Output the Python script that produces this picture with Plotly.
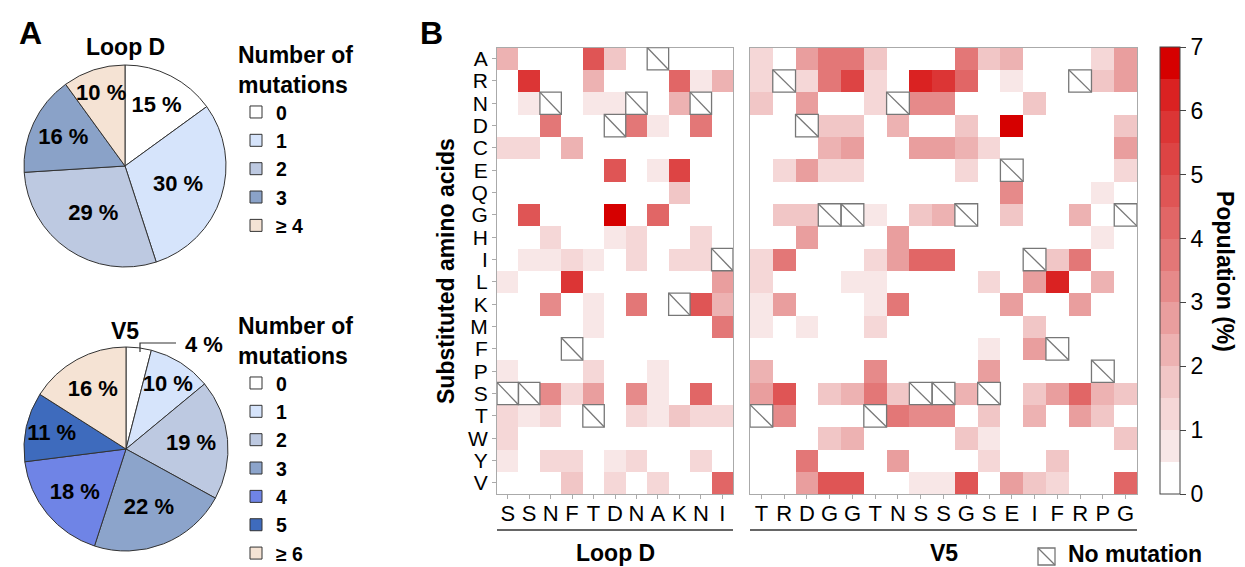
import plotly.graph_objects as go

# ---------------- data ----------------
AMINO = list("ARNDCEQGHILKMFPSTWYV")
LOOPD_RES = list("SSNFTDNAKNI")
V5_RES = list("TRDGGTNSSGSEIFRPG")
X = None  # no mutation (native residue)

# rows follow AMINO order, columns follow LOOPD_RES
LOOPD_Z = [
    [2.2, 0, 0, 0, 4.7, 1.7, 0, X, 0, 0, 0],
    [0, 5.7, 0, 0, 2.2, 0, 0, 0, 4.2, 0.7, 2.2],
    [0, 0.7, X, 0, 0.7, 0.7, X, 0, 2.2, X, 0],
    [0, 0, 3.7, 0, 0, X, 3.7, 0.7, 0, 3.7, 0],
    [1.2, 1.2, 0, 2.2, 0, 0, 0, 0, 0, 0, 0],
    [0, 0, 0, 0, 0, 4.7, 0, 0.7, 5.2, 0, 0],
    [0, 0, 0, 0, 0, 0, 0, 0, 1.7, 0, 0],
    [0, 4.7, 0, 0, 0, 6.7, 0, 4.2, 0, 0, 0],
    [0, 0, 1.2, 0, 0, 0.7, 1.2, 0, 0, 1.2, 0],
    [0, 0.7, 0.7, 1.2, 0.7, 0, 1.2, 0, 1.2, 1.2, X],
    [0.7, 0, 0, 5.7, 0, 0, 0, 0, 0, 0, 2.7],
    [0, 0, 3.2, 0, 0.7, 0, 3.7, 0, X, 4.7, 2.2],
    [0, 0, 0, 0, 0.7, 0, 0, 0, 0, 0, 3.7],
    [0, 0, 0, X, 0, 0, 0, 0, 0, 0, 0],
    [0.7, 0, 0, 0, 1.2, 0, 0, 0.7, 0, 0, 0],
    [X, X, 3.2, 1.2, 2.8, 0, 3.2, 0.7, 0, 4.2, 0],
    [1.2, 0.7, 1.2, 0, X, 0, 1.2, 0.7, 1.7, 1.2, 1.2],
    [1.2, 0, 0, 0, 0, 0, 0, 0, 0, 0, 0],
    [0.7, 0, 1.2, 1.2, 0, 0.7, 1.2, 0, 0, 1.2, 0],
    [0, 0, 0, 1.7, 0, 1.2, 0, 1.2, 0, 0, 4.2],
]

# rows follow AMINO order, columns follow V5_RES
V5_Z = [
    [1.2, 0, 2.8, 3.7, 3.7, 1.8, 0, 0, 0, 3.7, 1.7, 2.2, 0, 0, 0, 1.2, 2.8],
    [1.2, X, 1.2, 3.7, 5.2, 1.2, 0, 6.2, 5.7, 4.2, 0, 0.7, 0, 0, X, 1.7, 2.8],
    [1.7, 0, 2.8, 0, 0, 1.2, X, 3.2, 3.2, 0, 0, 0, 1.7, 0, 0, 0, 0],
    [0, 0, X, 1.7, 1.7, 0, 2.2, 0, 0, 1.7, 0, 6.7, 0, 0, 0, 0, 1.7],
    [0, 0, 0, 2.2, 2.7, 0, 0, 2.7, 2.7, 2.2, 1.2, 0, 0, 0, 0, 0, 2.7],
    [0, 1.2, 2.7, 1.2, 1.2, 0, 0, 0, 0, 1.2, 0, X, 0, 0, 0, 0, 1.2],
    [0, 0, 0, 0, 0, 0, 0, 0, 0, 0, 0, 3.2, 0, 0, 0, 0.7, 0],
    [0, 1.7, 1.7, X, X, 0.7, 0, 1.7, 2.2, X, 0, 1.7, 0, 0, 2.2, 0, X],
    [0, 0, 2.8, 0, 0, 0, 2.8, 0, 0, 0, 0, 0, 0, 0, 0, 0.7, 0],
    [1.2, 3.7, 0, 0, 0, 1.2, 2.8, 4.2, 4.2, 0, 0, 0, X, 1.7, 3.7, 0, 0],
    [1.2, 0, 0, 0, 0.7, 0.7, 0, 0, 0, 0, 1.2, 0, 2.8, 6.2, 0, 2.2, 0],
    [0.7, 2.8, 0, 0, 0, 0.7, 3.7, 0, 0, 0, 0, 2.8, 0, 0, 2.8, 0, 0],
    [0.7, 0, 0.7, 0, 0, 1.2, 0, 0, 0, 0, 0, 0, 1.7, 0, 0, 0, 0],
    [0, 0, 0, 0, 0, 0, 0, 0, 0, 0, 0.8, 0, 2.8, X, 0, 0, 0],
    [2.2, 0, 0, 0, 0, 3.2, 0, 0, 0, 0, 2.8, 0, 0, 0, 0, X, 0],
    [2.8, 4.7, 0, 1.7, 2.2, 3.7, 1.7, X, X, 2.2, X, 0, 1.7, 2.8, 4.2, 2.2, 1.7],
    [X, 3.2, 0, 0, 0, X, 3.7, 3.2, 3.2, 0, 1.7, 0, 2.2, 0, 2.8, 1.7, 0],
    [0, 0, 0, 1.7, 2.2, 0, 0, 0, 0, 1.7, 0.8, 0, 0, 0, 0, 0, 1.7],
    [0, 0, 3.7, 0, 0, 0, 2.8, 0, 0, 0, 1.2, 0, 0, 1.7, 0, 0, 0],
    [0, 0, 2.8, 4.7, 4.7, 0, 0, 0.7, 0.7, 4.7, 0, 2.8, 1.7, 1.2, 0, 0, 4.2],
]

LOOPD_PIE_LABELS = ["0", "1", "2", "3", "≥ 4"]
LOOPD_PIE_VALUES = [15, 30, 29, 16, 10]
# trailing no-break space keeps these legend entries separate from Loop D's
V5_PIE_LABELS = ["0\u00a0", "1\u00a0", "2\u00a0", "3\u00a0", "4", "5", "≥ 6"]
V5_PIE_VALUES = [4, 10, 19, 22, 18, 11, 16]

# ---------------- style ----------------
W, H = 1245, 567
FONT = "Liberation Sans, Arial, Helvetica, sans-serif"


def px(x):
    return x / W


def py(y):
    return 1 - y / H


LOOPD_PIE_COLORS = ["#ffffff", "#d6e4fb", "#bdc9e1", "#8aa2c8", "#f5e3d4"]
V5_PIE_COLORS = ["#ffffff", "#d6e4fb", "#bdc9e1", "#8ca4cb", "#6f84e6", "#3e6bbd", "#f5e3d4"]

BIN_COLORS = [
    "#ffffff", "#f8e7e7", "#f5d7d7", "#f1c6c6", "#edb2b2", "#e99e9e", "#e68a8a",
    "#e37777", "#e16666", "#df5555", "#dd4444", "#dc3535", "#da2222", "#d60000",
]
NB = len(BIN_COLORS)
COLORSCALE = []
for i, c in enumerate(BIN_COLORS):
    COLORSCALE.append([i / NB, c])
    COLORSCALE.append([(i + 1) / NB, c])

fig = go.Figure()

fig.add_trace(go.Heatmap(
    z=LOOPD_Z, x=list(range(len(LOOPD_RES))), y=list(range(len(AMINO))),
    coloraxis="coloraxis", xaxis="x", yaxis="y", hoverongaps=False,
))
fig.add_trace(go.Heatmap(
    z=V5_Z, x=list(range(len(V5_RES))), y=list(range(len(AMINO))),
    coloraxis="coloraxis", xaxis="x2", yaxis="y2", hoverongaps=False,
))

pie_common = dict(
    sort=False, direction="clockwise", rotation=0,
    texttemplate="%{value} %", insidetextorientation="horizontal",
    textfont=dict(size=22, color="black", family=FONT, weight="bold"),
    hoverinfo="skip",
)
fig.add_trace(go.Pie(
    labels=LOOPD_PIE_LABELS, values=LOOPD_PIE_VALUES,
    domain=dict(x=[px(24), px(226)], y=[py(267), py(65)]),
    marker=dict(colors=LOOPD_PIE_COLORS, line=dict(color="#333333", width=1)),
    textposition="inside", legend="legend", **pie_common,
))
fig.add_trace(go.Pie(
    labels=V5_PIE_LABELS, values=V5_PIE_VALUES,
    domain=dict(x=[px(24), px(228)], y=[py(551), py(347)]),
    marker=dict(colors=V5_PIE_COLORS, line=dict(color="#333333", width=1)),
    textposition=["none"] + ["inside"] * (len(V5_PIE_VALUES) - 1),
    legend="legend2", **pie_common,
))

# no-mutation boxes derived from the data
shapes = []
for z, xr in ((LOOPD_Z, "x"), (V5_Z, "x2")):
    yr = "y" if xr == "x" else "y2"
    for r, row in enumerate(z):
        for c, v in enumerate(row):
            if v is None:
                shapes.append(dict(type="rect", xref=xr, yref=yr,
                                   x0=c - 0.5, x1=c + 0.5, y0=r - 0.5, y1=r + 0.5,
                                   line=dict(color="#777777", width=1.3)))
                shapes.append(dict(type="line", xref=xr, yref=yr,
                                   x0=c - 0.5, x1=c + 0.5, y0=r - 0.5, y1=r + 0.5,
                                   line=dict(color="#777777", width=1.3)))

# group brackets under the x labels
for xr in ("x", "x2"):
    shapes.append(dict(type="line", xref=f"{xr} domain", yref="paper",
                       x0=0, x1=1, y0=py(530), y1=py(530),
                       line=dict(color="#333333", width=1.5)))

# "No mutation" key
shapes.append(dict(type="rect", xref="paper", yref="paper",
                   x0=px(1038), x1=px(1055), y0=py(565), y1=py(548),
                   line=dict(color="#777777", width=1.3)))
shapes.append(dict(type="line", xref="paper", yref="paper",
                   x0=px(1038), x1=px(1055), y0=py(548), y1=py(565),
                   line=dict(color="#777777", width=1.3)))

# leader line for the 4 % slice
shapes.append(dict(type="path", xref="paper", yref="paper",
                   path=f"M {px(140)},{py(352)} L {px(140)},{py(343)} L {px(176)},{py(343)}",
                   line=dict(color="#333333", width=1.2)))

bold = dict(family=FONT, size=23, color="black", weight="bold")
annotations = [
    dict(text="A", x=px(30), y=py(33), font=dict(family=FONT, size=32, color="black", weight="bold")),
    dict(text="B", x=px(431), y=py(33), font=dict(family=FONT, size=32, color="black", weight="bold")),
    dict(text="Loop D", x=px(125), y=py(47), font=bold),
    dict(text="V5", x=px(125), y=py(331), font=bold),
    dict(text="4 %", x=px(204), y=py(344), font=dict(family=FONT, size=22, color="black", weight="bold")),
    dict(text="Substituted amino acids", x=px(446), y=py(271), textangle=-90, font=bold),
    dict(text="Population (%)", x=px(1225), y=py(271), textangle=90, font=bold),
    dict(text="Loop D", x=0.5, xref="x domain", y=py(553), font=bold),
    dict(text="V5", x=0.5, xref="x2 domain", y=py(553), font=bold),
    dict(text="No mutation", x=px(1066), y=py(554), xanchor="left", font=bold),
]
for a in annotations:
    a.setdefault("xref", "paper")
    a.setdefault("yref", "paper")
    a.setdefault("showarrow", False)
    a.setdefault("xanchor", "center")
    a.setdefault("yanchor", "middle")

axis_common = dict(showgrid=False, zeroline=False, showline=True, mirror=True,
                   linecolor="#aaaaaa", linewidth=1, ticks="outside", ticklen=4,
                   tickcolor="#aaaaaa")

legend_common = dict(
    xanchor="left", yanchor="top", bgcolor="rgba(0,0,0,0)", borderwidth=0,
    font=dict(family=FONT, size=19.5, color="black", weight="bold"),
    title=dict(text="Number of<br>mutations", side="top",
               font=dict(family=FONT, size=23, color="black", weight="bold")),
    traceorder="normal",
)

fig.update_layout(
    width=W, height=H, margin=dict(l=0, r=0, t=0, b=0, autoexpand=False),
    paper_bgcolor="white", plot_bgcolor="white",
    font=dict(family=FONT, color="black"),
    uniformtext=dict(minsize=22, mode="show"),
    xaxis=dict(domain=[px(497), px(733)], anchor="y", range=[-0.5, len(LOOPD_RES) - 0.5],
               tickvals=list(range(len(LOOPD_RES))), ticktext=LOOPD_RES,
               tickfont=dict(size=22, family=FONT), ticklabelstandoff=-4, **axis_common),
    xaxis2=dict(domain=[px(750), px(1137)], anchor="y2", range=[-0.5, len(V5_RES) - 0.5],
                tickvals=list(range(len(V5_RES))), ticktext=V5_RES,
                tickfont=dict(size=22, family=FONT), ticklabelstandoff=-4, **axis_common),
    yaxis=dict(domain=[py(494), py(47.5)], anchor="x", range=[len(AMINO) - 0.5, -0.5],
               tickvals=list(range(len(AMINO))), ticktext=AMINO,
               tickfont=dict(size=21, family=FONT), **axis_common),
    yaxis2=dict(domain=[py(494), py(47.5)], anchor="x2", range=[len(AMINO) - 0.5, -0.5],
                matches="y", showticklabels=False, showgrid=False, zeroline=False,
                showline=True, mirror=True, linecolor="#aaaaaa", linewidth=1, ticks=""),
    coloraxis=dict(
        colorscale=COLORSCALE, cmin=0, cmax=7,
        colorbar=dict(
            x=px(1160), xanchor="left", xpad=0,
            y=py(494), yanchor="bottom", ypad=0,
            len=(494 - 47.5) / H, lenmode="fraction", thickness=20,
            outlinewidth=1, outlinecolor="#444444",
            ticks="outside", ticklen=6, tickcolor="#444444",
            tickvals=list(range(8)), tickfont=dict(size=23, family=FONT, color="black"),
        ),
    ),
    legend=dict(x=px(236), y=py(33), **legend_common),
    legend2=dict(x=px(236), y=py(304), **legend_common),
    shapes=shapes,
    annotations=annotations,
)

fig.write_html(
    "out.html",
    config={"displayModeBar": False},
    post_script="document.body.style.margin='0';document.body.style.overflow='hidden';",
)
